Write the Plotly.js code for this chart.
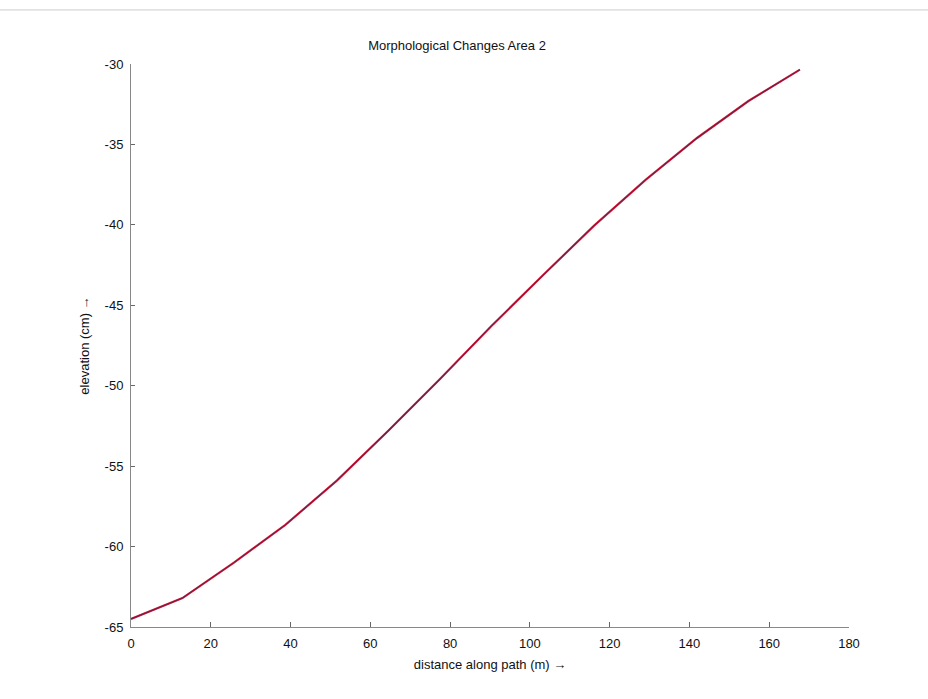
<!DOCTYPE html>
<html>
<head>
<meta charset="utf-8">
<script src="https://cdn.plot.ly/plotly-3.0.1.min.js"></script>
<style>html,body{margin:0;padding:0;background:#fff;}#chart{width:928px;height:699px;}</style>
</head>
<body>
<div id="chart"></div>
<script>
const distance = [0, 12.9, 25.8, 38.7, 51.6, 64.5, 77.4, 90.3, 103.2, 116.1, 129, 141.9, 154.8, 167.7];
const elevationA = [-64.5, -63.2, -61.0, -58.65, -55.9, -52.8, -49.6, -46.3, -43.15, -40.05, -37.2, -34.6, -32.3, -30.35];
const elevationB = [-64.5, -63.2, -61.0, -58.65, -55.9, -52.8, -49.6, -46.3, -43.15, -40.05, -37.2, -34.6, -32.3, -30.35];
const xTicks = [0, 20, 40, 60, 80, 100, 120, 140, 160, 180];
const yTicks = [-65, -60, -55, -50, -45, -40, -35, -30];
const titleText = 'Morphological Changes Area 2';
const xTitle = 'distance along path (m) \u2192';
const yTitle = 'elevation (cm) \u2192';

const font = {family: 'Liberation Sans, Arial, sans-serif', size: 13, color: '#111'};

const traces = [
  {x: distance, y: elevationA, mode: 'lines', line: {color: '#e8203c', width: 2.2}, hoverinfo: 'skip'},
  {x: distance, y: elevationB, mode: 'lines', line: {color: '#6b1f45', width: 1.1}, hoverinfo: 'skip'}
];

const layout = {
  width: 928, height: 699,
  paper_bgcolor: '#fff', plot_bgcolor: '#fff',
  margin: {l: 131, r: 79, t: 64, b: 72, pad: 0},
  showlegend: false,
  font: font,
  title: {text: titleText, x: 0.4925, xanchor: 'center', y: 0.935, yanchor: 'middle', font: {family: font.family, size: 13, color: '#111'}},
  xaxis: {
    range: [0, 180], tickvals: xTicks, ticktext: xTicks.map(String),
    showgrid: false, zeroline: false, showline: true, linecolor: '#888', linewidth: 1,
    ticks: 'inside', ticklen: 5, tickcolor: '#666', tickfont: font, ticklabelstandoff: 4,
    title: {text: xTitle, standoff: 10, font: font}
  },
  yaxis: {
    range: [-65, -30], tickvals: yTicks, ticktext: yTicks.map(String),
    showgrid: false, zeroline: false, showline: true, linecolor: '#888', linewidth: 1,
    ticks: 'inside', ticklen: 4, tickcolor: '#666', tickfont: font, ticklabelstandoff: 4,
    title: {text: yTitle, standoff: 12, font: font}
  },
  shapes: [
    {type: 'line', xref: 'paper', yref: 'paper', x0: -0.2, x1: 1.12, y0: 1.096, y1: 1.096, line: {color: '#ccc', width: 1}}
  ]
};

Plotly.newPlot('chart', traces, layout, {staticPlot: true, displayModeBar: false});
</script>
</body>
</html>
